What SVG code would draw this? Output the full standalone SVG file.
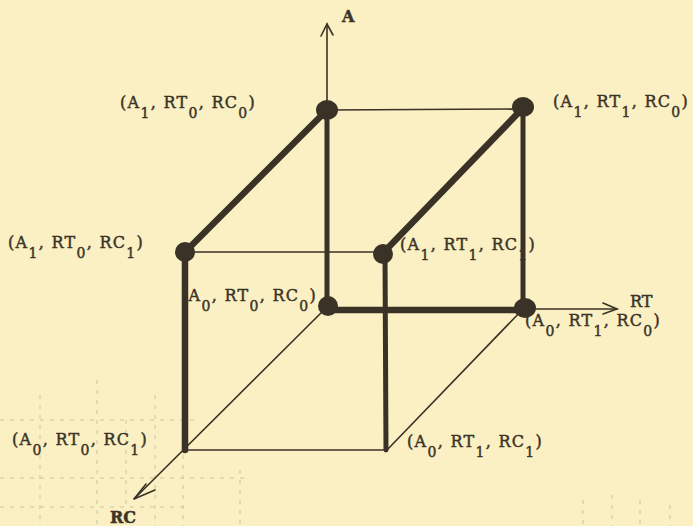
<svg xmlns="http://www.w3.org/2000/svg" width="693" height="526" viewBox="0 0 693 526">
<style>
.bg{fill:#faf0c3}
.thin{stroke:#3a3226;stroke-width:1.6;fill:none;stroke-linecap:round}
.med{stroke:#3a3226;stroke-width:5;fill:none;stroke-linecap:round}
.thick{stroke:#3a3226;stroke-width:6.5;fill:none;stroke-linecap:round}
.node{fill:#3a3226}
.lbl{font-family:"DejaVu Serif","Liberation Serif",serif;font-size:16px;fill:#3b3327;stroke:#3b3327;stroke-width:0.45;letter-spacing:1.3px}
.s{font-size:14px}
.ax{font-family:"DejaVu Serif","Liberation Serif",serif;font-size:16px;fill:#3b3327;stroke:#3b3327;stroke-width:0.5}
.bold{font-weight:bold}
.grid{stroke:#6e6656;stroke-width:1;stroke-dasharray:4 6;opacity:0.3;fill:none}
</style>
<rect class="bg" x="0" y="0" width="693" height="526"/>
<g id="scan-grid" class="grid">
<line x1="0" y1="420" x2="200" y2="420"/>
<line x1="0" y1="478" x2="250" y2="478"/>
<line x1="0" y1="507" x2="190" y2="507"/>
<line x1="40" y1="395" x2="40" y2="526"/>
<line x1="97" y1="380" x2="97" y2="526"/>
<line x1="126" y1="420" x2="126" y2="526"/>
<line x1="155" y1="395" x2="155" y2="526"/>
<line x1="183" y1="455" x2="183" y2="526"/>
<line x1="240" y1="470" x2="240" y2="526"/>
<line x1="583" y1="500" x2="583" y2="526"/>
<line x1="612" y1="495" x2="612" y2="526"/>
<line x1="640" y1="500" x2="640" y2="526"/>
<line x1="670" y1="505" x2="670" y2="526"/>
</g>
<g id="connectors">
<line class="thin" x1="327" y1="110" x2="327" y2="24"/>
<polyline class="thin" points="321,36 327,24 333,35"/>
<line class="thin" x1="523" y1="309" x2="617" y2="309"/>
<polyline class="thin" points="603,303 617,309 603,314"/>
<line class="thin" x1="329" y1="305" x2="134" y2="499"/>
<polyline class="thin" points="146,484 134,499 155,490"/>
<line class="thin" x1="327" y1="110" x2="523" y2="109"/>
<line class="thin" x1="185" y1="252" x2="383" y2="252"/>
<line class="thin" x1="185" y1="450" x2="387" y2="450"/>
<line class="thin" x1="387" y1="450" x2="523" y2="309"/>
<line class="thick" x1="327" y1="110" x2="185" y2="252"/>
<line class="thick" x1="523" y1="108" x2="383" y2="253"/>
<line class="med" x1="327" y1="110" x2="327" y2="305"/>
<line class="thick" x1="327" y1="310" x2="523" y2="310"/>
<line class="thick" x1="185" y1="252" x2="185" y2="450"/>
<line class="med" x1="385" y1="253" x2="386" y2="450"/>
</g>
<g id="n-a1rt0rc0"><ellipse class="node" cx="327" cy="110" rx="11" ry="10"/>
<text class="lbl" x="120" y="108">(A<tspan class="s" dy="10">1</tspan><tspan dy="-10">, RT</tspan><tspan class="s" dy="10">0</tspan><tspan dy="-10">, RC</tspan><tspan class="s" dy="10">0</tspan><tspan dy="-10">)</tspan></text></g>
<g id="n-a1rt1rc0"><ellipse class="node" cx="523" cy="107" rx="11" ry="10"/>
<text class="lbl" x="553" y="107">(A<tspan class="s" dy="10">1</tspan><tspan dy="-10">, RT</tspan><tspan class="s" dy="10">1</tspan><tspan dy="-10">, RC</tspan><tspan class="s" dy="10">0</tspan><tspan dy="-10">)</tspan></text></g>
<g id="n-a1rt0rc1"><ellipse class="node" cx="185" cy="252" rx="10" ry="10"/>
<text class="lbl" x="8" y="248">(A<tspan class="s" dy="10">1</tspan><tspan dy="-10">, RT</tspan><tspan class="s" dy="10">0</tspan><tspan dy="-10">, RC</tspan><tspan class="s" dy="10">1</tspan><tspan dy="-10">)</tspan></text></g>
<g id="n-a1rt1rc1"><ellipse class="node" cx="383" cy="254" rx="10" ry="10"/>
<text class="lbl" x="400" y="250">(A<tspan class="s" dy="10">1</tspan><tspan dy="-10">, RT</tspan><tspan class="s" dy="10">1</tspan><tspan dy="-10">, RC</tspan><tspan class="s" dy="10">1</tspan><tspan dy="-10">)</tspan></text>
<line class="med" x1="523" y1="109" x2="523" y2="308"/></g>
<g id="n-a0rt0rc0"><ellipse class="node" cx="328" cy="306" rx="10" ry="10"/>
<text class="lbl" x="181" y="301">(A<tspan class="s" dy="10">0</tspan><tspan dy="-10">, RT</tspan><tspan class="s" dy="10">0</tspan><tspan dy="-10">, RC</tspan><tspan class="s" dy="10">0</tspan><tspan dy="-10">)</tspan></text></g>
<g id="n-a0rt1rc0"><ellipse class="node" cx="525" cy="308" rx="11" ry="10"/>
<text class="lbl" x="525" y="326">(A<tspan class="s" dy="10">0</tspan><tspan dy="-10">, RT</tspan><tspan class="s" dy="10">1</tspan><tspan dy="-10">, RC</tspan><tspan class="s" dy="10">0</tspan><tspan dy="-10">)</tspan></text></g>
<g id="n-a0rt0rc1">
<text class="lbl" x="12" y="445">(A<tspan class="s" dy="10">0</tspan><tspan dy="-10">, RT</tspan><tspan class="s" dy="10">0</tspan><tspan dy="-10">, RC</tspan><tspan class="s" dy="10">1</tspan><tspan dy="-10">)</tspan></text></g>
<g id="n-a0rt1rc1">
<text class="lbl" x="407" y="447">(A<tspan class="s" dy="10">0</tspan><tspan dy="-10">, RT</tspan><tspan class="s" dy="10">1</tspan><tspan dy="-10">, RC</tspan><tspan class="s" dy="10">1</tspan><tspan dy="-10">)</tspan></text></g>
<g id="axis-labels">
<text class="ax bold" x="342" y="22">A</text>
<text class="ax" x="630" y="307">RT</text>
<text class="ax bold" x="110" y="523">RC</text>
</g>
</svg>
